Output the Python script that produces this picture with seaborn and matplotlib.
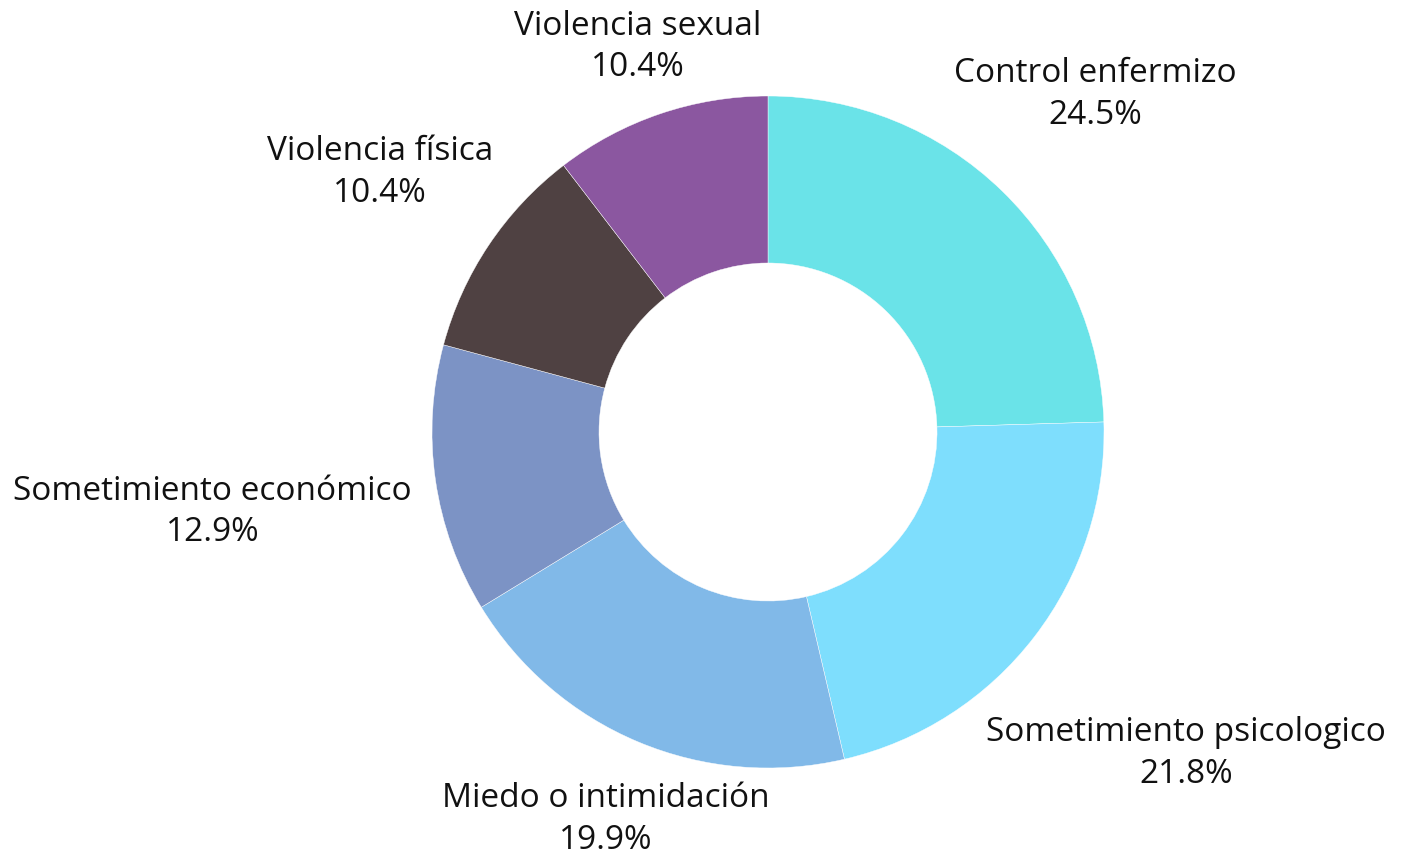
import numpy as np
import matplotlib
matplotlib.use("Agg")
import matplotlib.pyplot as plt
import seaborn as sns

categories = ["Control enfermizo", "Sometimiento psicologico", "Miedo o intimidación",
              "Sometimiento económico", "Violencia física", "Violencia sexual"]
values = [24.5, 21.8, 19.9, 12.9, 10.4, 10.4]
colors = ["#6AE3E8", "#7EDEFD", "#81B9E8", "#7C93C5", "#4F4142", "#8B57A0"]

# distance of each label centre from the middle, in outer radii
label_dist = [1.40, 1.57, 1.25, 1.67, 1.39, 1.21]

sns.set_theme(style="white")
plt.rcParams["font.family"] = ["Open Sans", "DejaVu Sans"]

fig = plt.figure(figsize=(14.07, 8.55), dpi=100)
ax = fig.add_axes([0, 0, 1, 1])

wedges, _ = ax.pie(values, colors=colors, startangle=90, counterclock=False,
                   radius=1.0, wedgeprops=dict(width=0.497, edgecolor="white", linewidth=0.3))

for w, cat, val, d in zip(wedges, categories, values, label_dist):
    ang = np.deg2rad((w.theta1 + w.theta2) / 2)
    x, y = d * np.cos(ang), d * np.sin(ang)
    ax.text(x, y, f"{cat}\n{val}%", ha="center", va="center",
            fontsize=24, color="#111111", linespacing=1.35)

# centre at (768, 432) px, radius 336 px
s = 336.0
ax.set_xlim(-768 / s, (1407 - 768) / s)
ax.set_ylim(-(855 - 432) / s, 432 / s)
ax.set_aspect("equal")
ax.axis("off")

fig.savefig("out.png", dpi=100, facecolor="white")
